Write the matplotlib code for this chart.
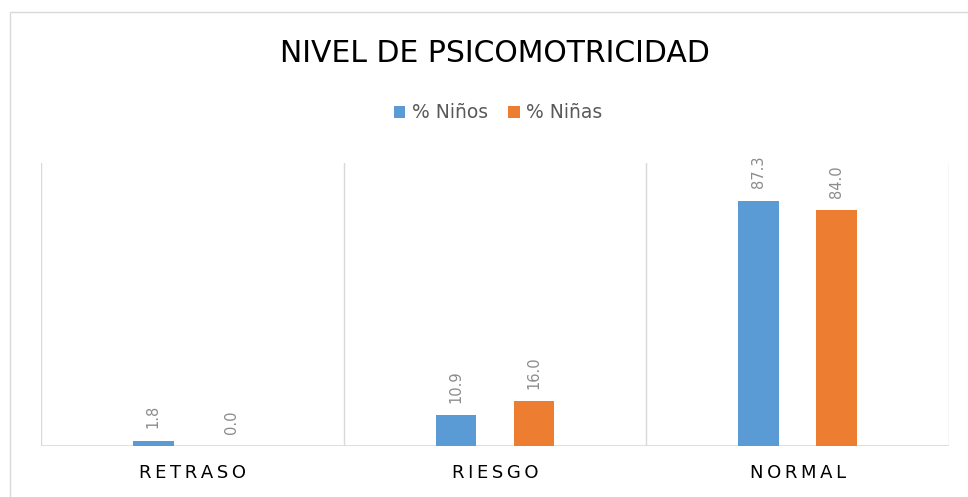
import matplotlib.pyplot as plt
import numpy as np
from matplotlib.patches import Rectangle

categorias = ['RETRASO', 'RIESGO', 'NORMAL']
ninos = [1.8, 10.9, 87.3]
ninas = [0.0, 16.0, 84.0]

AZUL = '#5B9BD5'
NARANJA = '#ED7D31'
GRIS = '#D9D9D9'

fig = plt.figure(figsize=(9.68, 4.97), dpi=100)
fig.patches.append(Rectangle((10 / 968, -0.1), 1.2, 1 - 12 / 497 + 0.1,
                             transform=fig.transFigure, fill=False,
                             edgecolor=GRIS, lw=1))

ax = fig.add_axes([41 / 968, 1 - 446 / 497, 908 / 968, 283 / 497])
x = np.arange(len(categorias))
w = 0.135
d = 0.129
b1 = ax.bar(x - d, ninos, w, color=AZUL, label='% Niños')
b2 = ax.bar(x + d, ninas, w, color=NARANJA, label='% Niñas')

for barras in (b1, b2):
    for r in barras:
        v = r.get_height()
        ax.annotate(f'{v:.1f}', (r.get_x() + r.get_width() / 2, v),
                    xytext=(0, 9), textcoords='offset points',
                    rotation=90, ha='center', va='bottom',
                    color='#8C8C8C', fontsize=10.5)

ax.set_xlim(-0.5, 2.5)
ax.set_ylim(0, 100.8)
for s in ax.spines.values():
    s.set_visible(False)
for xv in [-0.5, 0.5, 1.5, 2.5]:
    ax.axvline(xv, color=GRIS, lw=1, zorder=0)
ax.axhline(0, color=GRIS, lw=1.2, zorder=0)
ax.set_yticks([])
ax.set_xticks(x)
# espaciado entre letras con espacio fino
ax.set_xticklabels(['\u2009'.join(c) for c in categorias], fontsize=13,
                   color='black')
ax.tick_params(axis='x', length=0, pad=13)

fig.text(495 / 968, 1 - 53 / 497, 'NIVEL DE PSICOMOTRICIDAD', ha='center',
         va='center', fontsize=21.5, color='black')
fig.legend(handles=[b1, b2], loc='center', bbox_to_anchor=(498 / 968, 1 - 113 / 497),
           ncol=2, frameon=False, fontsize=13.5, labelcolor='#595959',
           handlelength=0.6, handleheight=0.6, handletextpad=0.35,
           columnspacing=1.1)

fig.savefig('out.png', dpi=100)
